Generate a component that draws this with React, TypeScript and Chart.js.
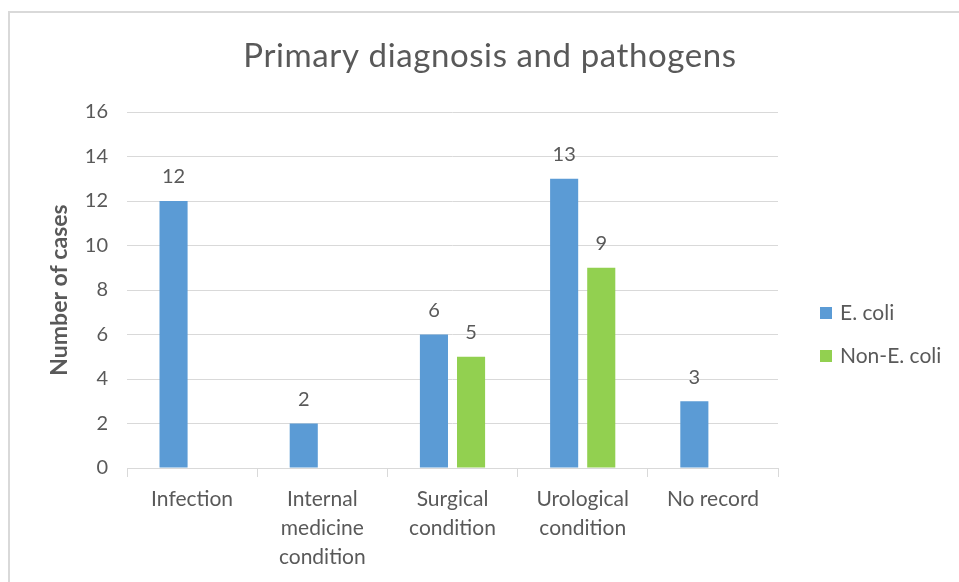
import React, { useEffect, useRef } from "react";
import { Chart, registerables } from "chart.js";

Chart.register(...registerables);

const chartTitle = "Primary diagnosis and pathogens";
const categories: (string | string[])[] = [
  "Infection",
  ["Internal", "medicine", "condition"],
  ["Surgical", "condition"],
  ["Urological", "condition"],
  "No record",
];
const eColi: (number | null)[] = [12, 2, 6, 13, 3];
const nonEColi: (number | null)[] = [null, null, 5, 9, null];
const seriesNames = ["E. coli", "Non-E. coli"];
const seriesColors = ["#5B9BD5", "#92D050"];

const FONT = "Lato, 'Open Sans', sans-serif";
const TEXT = "#595959";
const GRID = "#d9d9d9";

const valueLabels = {
  id: "valueLabels",
  afterDatasetsDraw(chart: any) {
    const ctx = chart.ctx;
    ctx.save();
    ctx.font = `20px ${FONT}`;
    ctx.fillStyle = TEXT;
    ctx.textAlign = "center";
    ctx.textBaseline = "middle";
    chart.data.datasets.forEach((ds: any, i: number) => {
      const meta = chart.getDatasetMeta(i);
      meta.data.forEach((el: any, j: number) => {
        const v = ds.data[j];
        if (v === null || v === undefined) return;
        ctx.fillText(String(v), el.x, el.y - 24);
      });
    });
    ctx.restore();
  },
};

const customLegend = {
  id: "customLegend",
  afterDraw(chart: any) {
    const ctx = chart.ctx;
    ctx.save();
    ctx.font = `21px ${FONT}`;
    ctx.textBaseline = "middle";
    ctx.textAlign = "left";
    const x0 = chart.chartArea.right + 42;
    const y0 = 313;
    chart.data.datasets.forEach((ds: any, i: number) => {
      const y = y0 + i * 43;
      ctx.fillStyle = ds.backgroundColor;
      ctx.fillRect(x0, y - 6, 12, 12);
      ctx.fillStyle = TEXT;
      ctx.fillText(ds.label, x0 + 20, y);
    });
    ctx.restore();
  },
};

const frameAndTitle = {
  id: "frameAndTitle",
  beforeDraw(chart: any) {
    const ctx = chart.ctx;
    ctx.save();
    ctx.fillStyle = "#ffffff";
    ctx.fillRect(0, 0, chart.width, chart.height);
    ctx.strokeStyle = GRID;
    ctx.lineWidth = 2;
    ctx.beginPath();
    ctx.moveTo(9, chart.height + 5);
    ctx.lineTo(9, 12);
    ctx.lineTo(chart.width + 5, 12);
    ctx.stroke();
    ctx.restore();
  },
  afterDraw(chart: any) {
    const ctx = chart.ctx;
    ctx.save();
    ctx.font = `33px ${FONT}`;
    ctx.fillStyle = TEXT;
    ctx.textAlign = "center";
    ctx.textBaseline = "alphabetic";
    try {
      (ctx as any).letterSpacing = "0.6px";
    } catch (e) {}
    ctx.fillText(chartTitle, 490, 67);
    ctx.restore();
  },
};

export default function App() {
  const ref = useRef<HTMLCanvasElement>(null);
  useEffect(() => {
    if (!ref.current) return;
    const chart = new Chart(ref.current, {
      type: "bar",
      data: {
        labels: categories,
        datasets: [
          { label: seriesNames[0], data: eColi, backgroundColor: seriesColors[0] },
          { label: seriesNames[1], data: nonEColi, backgroundColor: seriesColors[1] },
        ],
      },
      options: {
        animation: false,
        responsive: false,
        maintainAspectRatio: false,
        layout: { padding: { left: 0, right: 181, top: 112, bottom: 0 } },
        datasets: { bar: { barPercentage: 0.757, categoryPercentage: 0.57 } },
        plugins: {
          legend: { display: false },
          tooltip: { enabled: false },
          title: { display: false },
        },
        scales: {
          x: {
            grid: {
              offset: true,
              drawOnChartArea: false,
              drawTicks: true,
              tickLength: 9,
              color: GRID,
            },
            border: { display: true, color: GRID },
            ticks: {
              color: TEXT,
              padding: 8,
              maxRotation: 0,
              autoSkip: false,
              font: { family: FONT, size: 21, lineHeight: 29 / 21 },
            },
            afterFit: (s: any) => {
              s.height = 114;
              s.paddingLeft = 0;
              s.paddingRight = 0;
            },
          },
          y: {
            min: 0,
            max: 16,
            ticks: {
              stepSize: 2,
              color: TEXT,
              padding: 19,
              font: { family: FONT, size: 20 },
            },
            grid: { color: GRID, drawTicks: false },
            border: { display: false },
            title: {
              display: true,
              text: "Number of cases",
              color: TEXT,
              font: { family: FONT, size: 23, weight: "bold" },
              padding: { top: 46, bottom: 0 },
            },
            afterFit: (s: any) => {
              s.width = 127;
              s.paddingTop = 0;
              s.paddingBottom = 0;
            },
          },
        },
      },
      plugins: [frameAndTitle, valueLabels, customLegend],
    });
    return () => chart.destroy();
  }, []);
  return (
    <div style={{ position: "fixed", left: 0, top: 0, width: 959, height: 582 }}>
      <canvas ref={ref} width={959} height={582} style={{ width: 959, height: 582 }} />
    </div>
  );
}
